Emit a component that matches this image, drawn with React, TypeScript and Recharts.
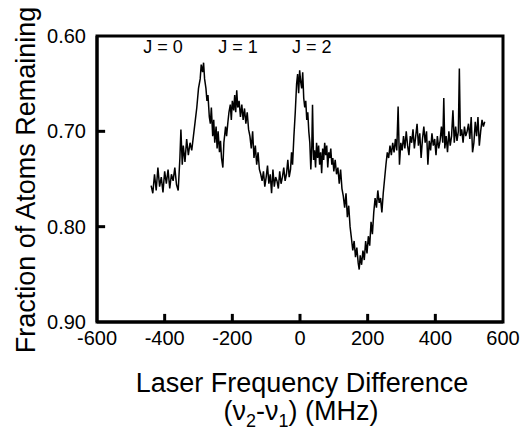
import { LineChart, Line, XAxis, YAxis, ReferenceArea, ReferenceDot, ReferenceLine } from 'recharts';

// laser frequency difference (MHz) and fraction of atoms remaining
const freq = [
  -440, -435, -430, -425, -420, -415, -410, -405, -400, -395, -390, -385, -380, -375, -370, -365, -360, -355, -352, -348,
  -345, -340, -335, -330, -325, -320, -315, -310, -305, -300, -295, -292, -288, -285, -282, -278, -275, -272, -268, -265,
  -262, -258, -255, -252, -248, -245, -242, -238, -235, -232, -228, -225, -220, -217, -213, -210, -206, -203, -200, -196,
  -193, -190, -187, -184, -180, -176, -172, -168, -164, -160, -156, -152, -148, -144, -140, -136, -132, -128, -124, -120,
  -116, -112, -108, -104, -100, -96, -92, -88, -84, -80, -76, -72, -68, -64, -60, -56, -52, -48, -44, -40,
  -36, -32, -28, -25, -22, -18, -14, -10, -7, -4, -1, 2, 5, 8, 11, 14, 17, 20, 23, 26,
  29, 32, 35, 37, 40, 43, 46, 49, 52, 55, 58, 61, 64, 67, 70, 73, 76, 79, 82, 85,
  88, 91, 94, 97, 100, 104, 108, 112, 116, 120, 124, 128, 132, 136, 140, 144, 148, 152, 156, 160,
  164, 168, 172, 175, 178, 182, 186, 190, 194, 198, 202, 206, 210, 214, 218, 222, 226, 230, 234, 238,
  242, 246, 250, 254, 258, 262, 266, 270, 274, 278, 282, 286, 290, 294, 298, 302, 306, 310, 314, 318,
  322, 326, 330, 334, 338, 342, 346, 350, 354, 358, 362, 366, 370, 374, 378, 382, 386, 390, 394, 398,
  402, 406, 410, 414, 418, 422, 425, 428, 432, 436, 440, 444, 448, 452, 456, 460, 464, 468, 471, 474,
  478, 482, 486, 490, 494, 498, 502, 506, 510, 514, 518, 522, 526, 530, 534, 538, 542, 546,
];

const remaining = [
  0.757, 0.765, 0.745, 0.762, 0.738, 0.758, 0.748, 0.764, 0.742, 0.755, 0.740, 0.760, 0.745, 0.752, 0.738, 0.756, 0.762, 0.728, 0.698, 0.735,
  0.715, 0.732, 0.708, 0.725, 0.712, 0.720, 0.705, 0.690, 0.675, 0.655, 0.645, 0.630, 0.638, 0.628, 0.645, 0.655, 0.668, 0.662, 0.685, 0.692,
  0.675, 0.705, 0.688, 0.712, 0.695, 0.718, 0.700, 0.722, 0.710, 0.728, 0.738, 0.712, 0.695, 0.705, 0.690, 0.680, 0.672, 0.688, 0.668, 0.678,
  0.662, 0.680, 0.657, 0.675, 0.668, 0.685, 0.672, 0.688, 0.676, 0.692, 0.680, 0.698, 0.705, 0.718, 0.700, 0.728, 0.715, 0.735, 0.722, 0.740,
  0.745, 0.752, 0.742, 0.758, 0.748, 0.736, 0.755, 0.745, 0.765, 0.740, 0.758, 0.748, 0.752, 0.760, 0.742, 0.755, 0.748, 0.738, 0.752, 0.745,
  0.730, 0.748, 0.740, 0.722, 0.735, 0.705, 0.680, 0.650, 0.640, 0.660, 0.636, 0.648, 0.655, 0.638, 0.665, 0.675, 0.668, 0.688, 0.680, 0.700,
  0.712, 0.740, 0.715, 0.672, 0.730, 0.720, 0.738, 0.712, 0.728, 0.715, 0.735, 0.722, 0.744, 0.718, 0.730, 0.712, 0.725, 0.715, 0.738, 0.722,
  0.728, 0.718, 0.735, 0.728, 0.742, 0.730, 0.745, 0.738, 0.755, 0.740, 0.760, 0.768, 0.780, 0.765, 0.790, 0.778, 0.800, 0.812, 0.825, 0.815,
  0.832, 0.822, 0.838, 0.845, 0.830, 0.840, 0.825, 0.835, 0.815, 0.828, 0.810, 0.820, 0.795, 0.808, 0.785, 0.770, 0.780, 0.762, 0.775, 0.770,
  0.785, 0.765, 0.750, 0.735, 0.722, 0.728, 0.715, 0.725, 0.712, 0.722, 0.708, 0.720, 0.674, 0.735, 0.712, 0.720, 0.705, 0.718, 0.700, 0.715,
  0.725, 0.705, 0.712, 0.698, 0.718, 0.705, 0.692, 0.715, 0.702, 0.728, 0.708, 0.695, 0.712, 0.700, 0.735, 0.710, 0.720, 0.702, 0.715, 0.708,
  0.725, 0.705, 0.718, 0.710, 0.695, 0.712, 0.665, 0.718, 0.705, 0.722, 0.700, 0.715, 0.705, 0.678, 0.712, 0.695, 0.710, 0.700, 0.634, 0.705,
  0.698, 0.712, 0.695, 0.705, 0.700, 0.692, 0.708, 0.685, 0.722, 0.712, 0.690, 0.705, 0.685, 0.715, 0.700, 0.688, 0.695, 0.690,
];

const xTicks = [-600, -400, -200, 0, 200, 400, 600];
const yTicks = [0.6, 0.7, 0.8, 0.9];

const peakLabels = ['J = 0', 'J = 1', 'J = 2'];
const peakLabelX = [-405, -183, 35];
const peakLabelY = 0.611;

const data = freq.map((f, i) => ({ f, v: remaining[i] }));

const font = '"Liberation Sans", Arial, Helvetica, sans-serif';
// inward tick length, in data units (about 8px)
const xTickLen = 0.0085;
const yTickLen = 24;

function XTitle({ viewBox }: any) {
  const cx = viewBox.x + viewBox.width / 2;
  const top = viewBox.y;
  return (
    <g fontFamily={font} fill="#000" textAnchor="middle">
      <text x={cx + 2} y={top + 70} fontSize={27}>Laser Frequency Difference</text>
      <text x={cx + 1} y={top + 98} fontSize={27}>
        (ν<tspan fontSize={18} dy={7}>2</tspan>
        <tspan dy={-7}>-ν</tspan>
        <tspan fontSize={18} dy={7}>1</tspan>
        <tspan dy={-7}>) (MHz)</tspan>
      </text>
    </g>
  );
}

function YTitle() {
  return (
    <text x={35} y={180} transform="rotate(-90 35 180)" textAnchor="middle" fontSize={27} fontFamily={font} fill="#000">
      Fraction of Atoms Remaining
    </text>
  );
}

export default function App() {
  return (
    <div style={{ position: 'absolute', left: 0, top: 0, width: 527, height: 438, background: '#fff' }}>
      <LineChart width={527} height={438} data={data} margin={{ top: 36, right: 24, left: 37, bottom: 86 }}>
        <XAxis
          dataKey="f"
          type="number"
          domain={[-600, 600]}
          ticks={xTicks}
          allowDataOverflow
          height={30}
          axisLine={{ stroke: '#000', strokeWidth: 3 }}
          tickLine={false}
          tickSize={0}
          tickMargin={9}
          tick={{ fill: '#000', fontSize: 20, fontFamily: font }}
          label={<XTitle />}
        />
        <YAxis
          type="number"
          domain={[0.6, 0.9]}
          reversed
          ticks={yTicks}
          allowDataOverflow
          width={60}
          tickFormatter={(v: number) => v.toFixed(2)}
          axisLine={{ stroke: '#000', strokeWidth: 3 }}
          tickLine={false}
          tickSize={0}
          tickMargin={11}
          tick={{ fill: '#000', fontSize: 20, fontFamily: font }}
          label={<YTitle />}
        />
        <ReferenceArea x1={-600} x2={600} y1={0.6} y2={0.9} fill="none" stroke="#000" strokeWidth={3} ifOverflow="visible" />
        {xTicks.slice(1, -1).map((t) => (
          <ReferenceLine
            key={'xt' + t}
            segment={[{ x: t, y: 0.9 }, { x: t, y: 0.9 - xTickLen }]}
            stroke="#000"
            strokeWidth={3}
            ifOverflow="visible"
          />
        ))}
        {yTicks.slice(1, -1).map((t) => (
          <ReferenceLine
            key={'yt' + t}
            segment={[{ x: -600, y: t }, { x: -600 + yTickLen, y: t }]}
            stroke="#000"
            strokeWidth={3}
            ifOverflow="visible"
          />
        ))}
        <Line
          type="linear"
          dataKey="v"
          stroke="#000"
          strokeWidth={1.5}
          dot={false}
          isAnimationActive={false}
        />
        {peakLabels.map((t, i) => (
          <ReferenceDot
            key={t}
            x={peakLabelX[i]}
            y={peakLabelY}
            r={0}
            stroke="none"
            label={{ value: t, position: 'center', fill: '#000', fontSize: 18, fontFamily: font }}
          />
        ))}
      </LineChart>
    </div>
  );
}
